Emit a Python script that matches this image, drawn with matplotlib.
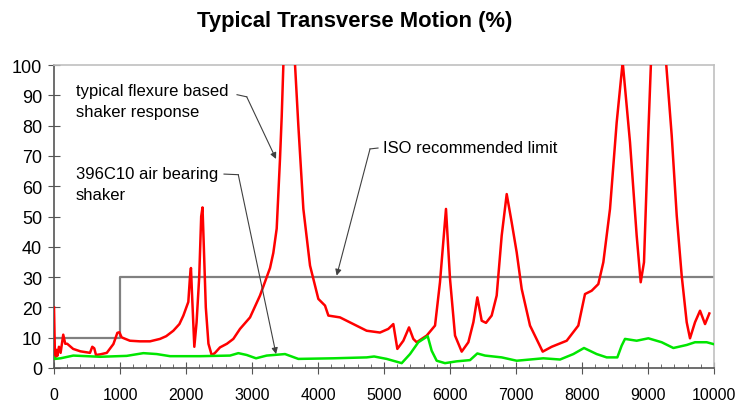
import matplotlib
matplotlib.use("Agg")
import matplotlib.pyplot as plt
from matplotlib.ticker import MultipleLocator

plt.rcParams["font.family"] = ["Liberation Sans", "DejaVu Sans"]

# frequency (Hz) / transverse motion (%)
flexure_f = [0, 15, 35, 50, 75, 100, 140, 170, 200, 290, 400, 545, 580, 610,
             636, 700, 800, 900, 960, 990, 1025, 1150, 1300, 1455, 1606, 1700,
             1808, 1900, 1960, 2035, 2060, 2075, 2090, 2126, 2160, 2200, 2230,
             2250, 2270, 2300, 2340, 2390, 2440, 2515, 2620, 2717, 2818, 2970,
             3121, 3273, 3323, 3374, 3424, 3450, 3475, 3560, 3652, 3702, 3778,
             3879, 4005, 4106, 4157, 4333, 4535, 4737, 4939, 5065, 5141, 5202,
             5293, 5379, 5444, 5495, 5647, 5773, 5848, 5939, 6000, 6076, 6177,
             6278, 6354, 6414, 6480, 6545, 6631, 6707, 6783, 6859, 6934, 7010,
             7086, 7212, 7404, 7540, 7768, 7944, 8045, 8146, 8247, 8323, 8424,
             8525, 8616, 8727, 8828, 8889, 8939, 9005, 9045, 9150, 9273, 9359,
             9435, 9510, 9586, 9636, 9712, 9788, 9864, 9929]
flexure_pct = [20, 3, 6, 4, 7, 5, 11, 8, 8, 6.3, 5.5, 5.0, 7.0, 6.5,
               4.3, 4.5, 5, 7.9, 11.6, 11.8, 10.1, 9, 8.8, 8.8, 9.6, 10.5,
               12.3, 14.5, 17.3, 21.8, 30, 33, 25, 7, 15, 30, 50,
               53, 40, 20, 8, 4.2, 5, 6.8, 8, 9.6, 12.9, 16.7,
               23.9, 33, 38, 46, 69, 83, 100, 140, 100, 80, 52.5,
               33.8, 22.8, 20.6, 17.3, 16.7, 14.5, 12.3, 11.7, 12.9, 14.5, 6.3,
               9, 13.4, 9.6, 8.5, 10.7, 14, 28.3, 52.5, 29.4, 10.7, 5.4,
               8.5, 15.1, 23.3, 15.6, 14.9, 17.3, 23.9, 43.7, 57.4, 48.1, 38.2,
               26.1, 14, 5.4, 7, 9, 14, 24.4, 25.5, 27.7, 34.9, 52.5,
               81, 101, 74.5, 43.7, 28.3, 34.9, 77.8, 101, 130, 101, 76.7,
               50.3, 30.5, 15.1, 9.8, 15.1, 18.9, 14.5, 18]

air_f = [0, 15, 100, 292, 697, 1101, 1354, 1556, 1758, 2212, 2667, 2793, 2919,
         3061, 3222, 3500, 3702, 4232, 4737, 4850, 5040, 5268, 5394, 5520,
         5662, 5722, 5798, 5924, 6101, 6303, 6414, 6530, 6783, 7010, 7414,
         7667, 7869, 8030, 8222, 8374, 8535, 8601, 8651, 8828, 9005, 9207,
         9384, 9586, 9712, 9889, 9990]
air_pct = [3.5, 3, 3.2, 4.1, 3.7, 4, 4.9, 4.6, 3.9, 3.9, 4.1, 4.9, 4.3,
           3.2, 4.1, 4.6, 3, 3.2, 3.5, 3.8, 3, 1.6, 4.6, 8.5,
           10.5, 5.7, 2.4, 1.6, 2.2, 2.6, 4.8, 4.1, 3.5, 2.4, 3.2,
           2.8, 4.6, 6.6, 4.6, 3.5, 3.5, 7.4, 9.6, 9, 9.8, 8.5,
           6.6, 7.6, 8.5, 8.5, 7.9]

iso_f = [0, 1000, 1000, 10000]
iso_pct = [10, 10, 30, 30]

fig = plt.figure(figsize=(7.49, 4.02), dpi=100)
ax = fig.add_axes([0.0721, 0.0821, 0.8812, 0.7537])

ax.plot(iso_f, iso_pct, color="#808080", lw=1.6, zorder=2)
ax.plot(flexure_f, flexure_pct, color="#ff0000", lw=1.8, zorder=3)
ax.plot(air_f, air_pct, color="#00e600", lw=1.8, zorder=3)

ax.set_xlim(0, 10000)
ax.set_ylim(0, 100)
ax.xaxis.set_major_locator(MultipleLocator(1000))
ax.xaxis.set_minor_locator(MultipleLocator(200))
ax.yaxis.set_major_locator(MultipleLocator(10))

for side in ["top", "right"]:
    ax.spines[side].set_color("#c0c0c0")
    ax.spines[side].set_linewidth(1.2)
for side in ["left", "bottom"]:
    ax.spines[side].set_color("#555555")
    ax.spines[side].set_linewidth(1.2)

ax.tick_params(axis="x", which="major", direction="inout", length=8,
               color="#555555", labelsize=11.5, pad=10)
ax.tick_params(axis="x", which="minor", direction="in", length=3,
               color="#555555")
ax.tick_params(axis="y", which="major", direction="inout", length=9,
               color="#555555", labelsize=13, pad=4)

# annotations
arrow = dict(arrowstyle="-|>", color="#404040", lw=0.8,
             mutation_scale=9, shrinkA=0, shrinkB=0)
ax.text(333, 94.2, "typical flexure based\nshaker response", fontsize=12,
        va="top", ha="left", linespacing=1.55)
ax.plot([2773, 2920], [90.2, 89.5], color="#404040", lw=0.8)
ax.annotate("", xy=(3364, 69), xytext=(2920, 89.5), arrowprops=arrow)

ax.text(333, 66.8, "396C10 air bearing\nshaker", fontsize=12,
        va="top", ha="left", linespacing=1.55)
ax.plot([2576, 2792], [64, 63.8], color="#404040", lw=0.8)
ax.annotate("", xy=(3364, 4.6), xytext=(2792, 63.8), arrowprops=arrow)

ax.text(4985, 72.7, "ISO recommended limit", fontsize=12,
        va="center", ha="left")
ax.plot([4909, 4788], [72.6, 72.3], color="#404040", lw=0.8)
ax.annotate("", xy=(4283, 30.5), xytext=(4788, 72.3), arrowprops=arrow)

fig.text(355 / 749, 1 - 21 / 402, "Typical Transverse Motion (%)",
         fontsize=15.8, fontweight="bold", ha="center", va="center")

fig.savefig("out.png", dpi=100)
